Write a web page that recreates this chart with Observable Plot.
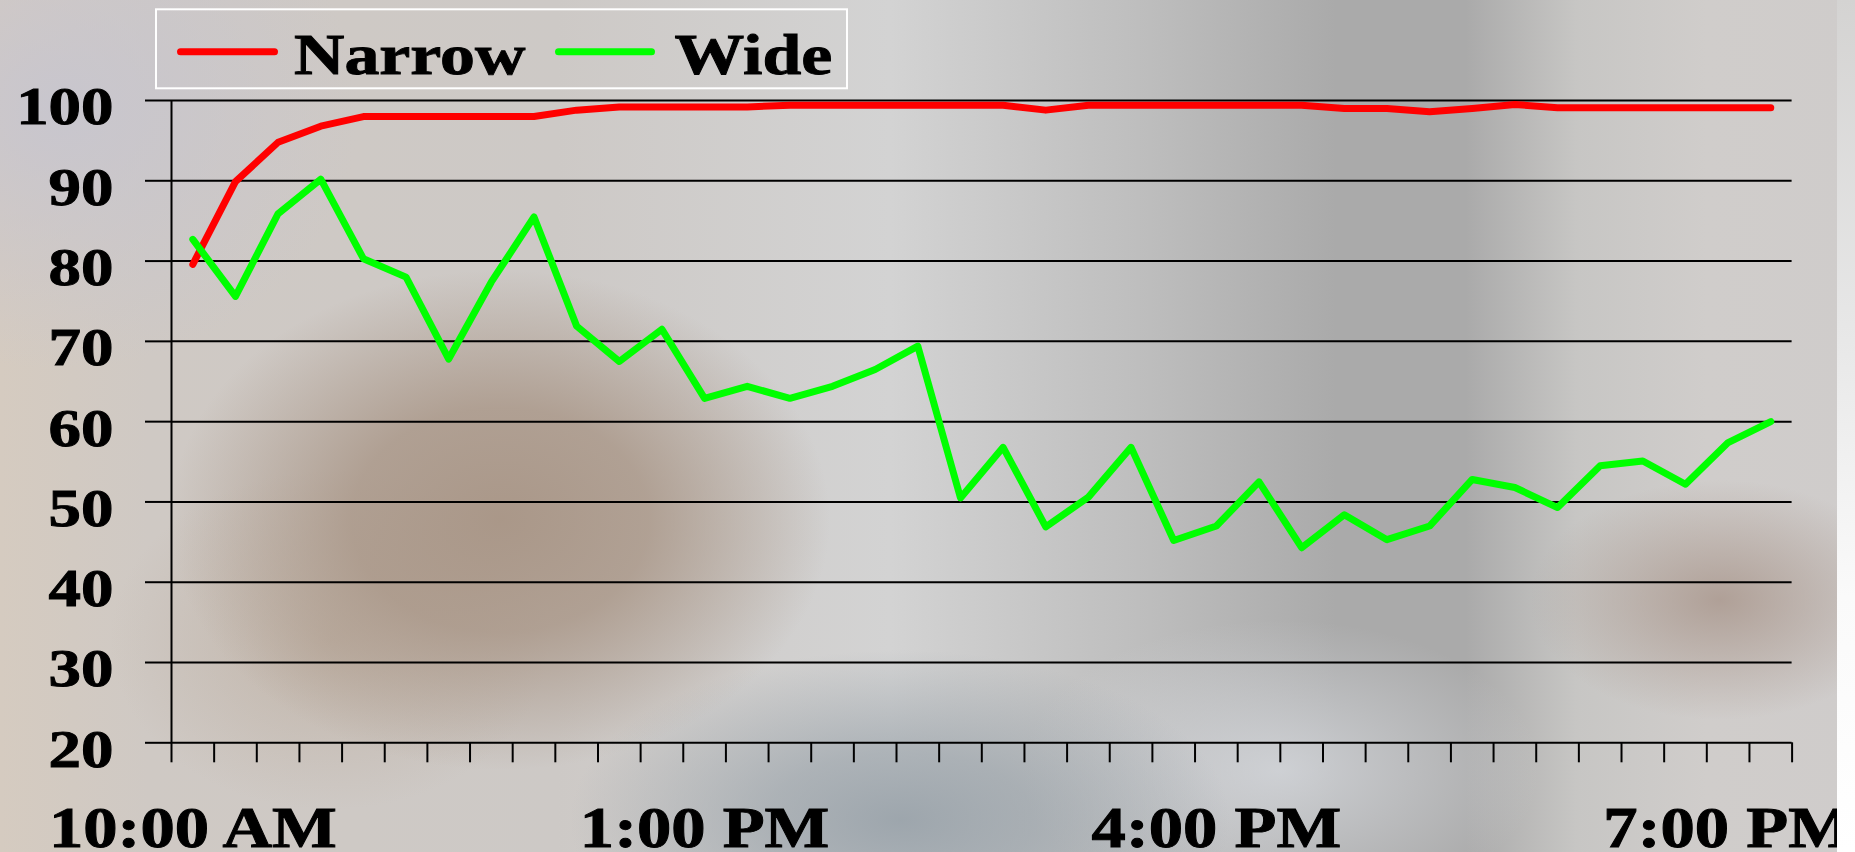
<!DOCTYPE html>
<html>
<head>
<meta charset="utf-8">
<script src="https://cdn.jsdelivr.net/npm/d3@7"></script>
<script src="https://cdn.jsdelivr.net/npm/@observablehq/plot@0.6"></script>
<style>
html, body { margin: 0; padding: 0; width: 1855px; height: 852px; overflow: hidden; }
body {
  background:
    radial-gradient(ellipse 330px 250px at 500px 520px, rgba(166,146,130,0.9) 0%, rgba(166,146,130,0.75) 45%, rgba(166,146,130,0) 100%),
    radial-gradient(ellipse 220px 170px at 330px 640px, rgba(185,168,152,0.6), rgba(185,168,152,0) 100%),
    radial-gradient(ellipse 300px 260px at 60px 110px, rgba(198,197,208,0.85), rgba(198,197,208,0) 100%),
    radial-gradient(ellipse 330px 170px at 900px 820px, rgba(148,158,166,0.85) 0%, rgba(148,158,166,0.6) 40%, rgba(148,158,166,0) 100%),
    radial-gradient(ellipse 190px 120px at 1720px 600px, rgba(170,152,142,0.85), rgba(170,152,142,0) 100%),
    radial-gradient(ellipse 260px 150px at 1280px 770px, rgba(216,219,224,0.75), rgba(216,219,224,0) 100%),
    linear-gradient(to right, #d5cbc0 0%, #cfc9c4 8%, #cdc9c6 30%, #d3d3d3 48%, #bdbdbd 62%, #aaaaaa 72%, #aaaaaa 79%, #c7c6c4 85%, #d0cdcb 92%, #cfcccb 100%);
}
#wrap { position: relative; width: 1855px; height: 852px; }
#chart svg { display: block; }
#legend { position: absolute; left: 0; top: 0; }
#strip { position: absolute; left: 1837px; top: 0; width: 18px; height: 852px;
  background: linear-gradient(to bottom, #d4d3d2 0%, #e8e8e8 40%, #fafafa 70%, #ffffff 100%); }
</style>
</head>
<body>
<div id="wrap">
  <div id="chart"></div>
  <svg id="legend" width="1855" height="100"></svg>
  <div id="strip"></div>
</div>
<script>
// ---- data ----
const times = ["10:00 AM","10:15 AM","10:30 AM","10:45 AM","11:00 AM","11:15 AM","11:30 AM","11:45 AM",
  "12:00 PM","12:15 PM","12:30 PM","12:45 PM","1:00 PM","1:15 PM","1:30 PM","1:45 PM",
  "2:00 PM","2:15 PM","2:30 PM","2:45 PM","3:00 PM","3:15 PM","3:30 PM","3:45 PM",
  "4:00 PM","4:15 PM","4:30 PM","4:45 PM","5:00 PM","5:15 PM","5:30 PM","5:45 PM",
  "6:00 PM","6:15 PM","6:30 PM","6:45 PM","7:00 PM","7:15 PM"];
const tickLabels = ["10:00 AM","1:00 PM","4:00 PM","7:00 PM"];
const yTicks = [20, 30, 40, 50, 60, 70, 80, 90, 100];
const seriesNames = ["Narrow", "Wide"];
const seriesColors = ["#ff0000", "#00ff00"];
const narrow = [79.6, 89.9, 94.8, 96.8, 98.0, 98.0, 98.0, 98.0, 98.0, 98.8,
  99.2, 99.2, 99.2, 99.2, 99.4, 99.4, 99.4, 99.4, 99.4, 99.4,
  98.8, 99.4, 99.4, 99.4, 99.4, 99.4, 99.4, 99.0, 99.0, 98.6,
  99.0, 99.5, 99.1, 99.1, 99.1, 99.1, 99.1, 99.1];
const wide = [82.7, 75.6, 85.9, 90.2, 80.3, 78.0, 67.8, 77.4, 85.5, 71.9,
  67.5, 71.5, 62.9, 64.4, 62.9, 64.4, 66.5, 69.4, 50.5, 56.8,
  46.9, 50.6, 56.8, 45.2, 47.0, 52.5, 44.3, 48.4, 45.3, 47.0,
  52.8, 51.8, 49.3, 54.5, 55.1, 52.2, 57.4, 60.0];

// ---- table ----
const rows = [];
[narrow, wide].forEach((vals, s) => vals.forEach((v, i) => rows.push({i, time: times[i], series: seriesNames[s], value: v})));
const boundaries = d3.range(times.length + 1).map(k => k - 0.5);
const labelIdx = tickLabels.map(t => times.indexOf(t));

const FONT = "'Liberation Serif', 'Times New Roman', serif";
const STRETCH = 1.225;

const plot = Plot.plot({
  width: 1855, height: 852,
  marginLeft: 171, marginRight: 63.4, marginTop: 100, marginBottom: 109.7,
  x: {domain: [-0.5, times.length - 0.5], label: null},
  y: {domain: [20, 100], label: null},
  color: {domain: seriesNames, range: seriesColors},
  style: {background: "transparent", fontFamily: FONT, fontWeight: "bold", color: "black", overflow: "visible"},
  marks: [
    Plot.ruleY(yTicks, {stroke: "black", strokeWidth: 2}),
    Plot.ruleX([-0.5], {stroke: "black", strokeWidth: 2}),
    Plot.axisY(yTicks, {tickSize: 26, fill: "none", stroke: "black", strokeWidth: 2}),
    Plot.axisY(yTicks, {tickSize: 0, tickPadding: 58, dy: 7, fontSize: 53, fill: "black"}),
    Plot.axisX(boundaries, {tickSize: 20, fill: "none", stroke: "black", strokeWidth: 2}),
    Plot.axisX(labelIdx, {tickSize: 0, tickPadding: 64, fontSize: 56, fill: "black", tickFormat: i => times[i]}),
    Plot.line(rows, {x: "i", y: "value", z: "series", stroke: "series", strokeWidth: 7,
      strokeLinecap: "round", strokeLinejoin: "round"})
  ]
});
document.getElementById("chart").appendChild(plot);

function stretch(root, s) {
  root.querySelectorAll("text").forEach(t => {
    if (!t.textContent.trim()) return;
    const b = t.getBBox();
    const anchor = getComputedStyle(t).textAnchor;
    const ax = anchor === "end" ? b.x + b.width : anchor === "middle" ? b.x + b.width / 2 : b.x;
    const tr = t.getAttribute("transform") || "";
    t.setAttribute("transform", `${tr} translate(${ax},0) scale(${s},1) translate(${-ax},0)`);
    t.setAttribute("stroke", "black");
    t.setAttribute("stroke-width", 0.9);
    t.setAttribute("paint-order", "stroke");
  });
}
stretch(plot, STRETCH);

// ---- legend ----
const lg = d3.select("#legend");
lg.append("rect").attr("x", 156).attr("y", 9.3).attr("width", 691).attr("height", 79)
  .attr("fill", "none").attr("stroke", "#ffffff").attr("stroke-width", 2);
const items = [
  {name: seriesNames[0], color: seriesColors[0], x1: 180.5, x2: 274.5, tx: 294},
  {name: seriesNames[1], color: seriesColors[1], x1: 558.5, x2: 651.5, tx: 674.5}
];
items.forEach(it => {
  lg.append("line").attr("x1", it.x1).attr("x2", it.x2).attr("y1", 51.7).attr("y2", 51.7)
    .attr("stroke", it.color).attr("stroke-width", 7).attr("stroke-linecap", "round");
  lg.append("text").attr("x", it.tx).attr("y", 74).text(it.name)
    .attr("font-family", FONT).attr("font-weight", "bold").attr("font-size", 57).attr("fill", "black");
});
stretch(document.getElementById("legend"), STRETCH);
</script>
</body>
</html>
